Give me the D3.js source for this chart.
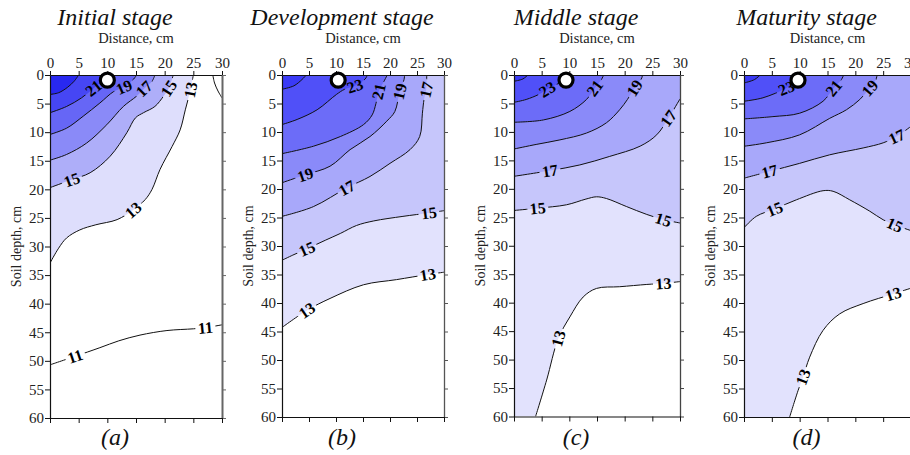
<!DOCTYPE html>
<html><head><meta charset="utf-8">
<script src="https://cdn.jsdelivr.net/npm/d3@7"></script>
<style>
body{margin:0;background:#fff;}
svg{display:block;}
svg text{font-family:"Liberation Serif","Times New Roman",Times,"DejaVu Serif",serif !important;}
</style></head><body>
<svg id="chart" width="910" height="455"></svg>
<script>
// ---------- data ----------
const stageTitles = ["Initial stage", "Development stage", "Middle stage", "Maturity stage"];
const panelLetters = ["(a)", "(b)", "(c)", "(d)"];
const xTicks = [0, 5, 10, 15, 20, 25, 30];
const yTicks = [0, 5, 10, 15, 20, 25, 30, 35, 40, 45, 50, 55, 60];
const xAxisTitle = "Distance, cm";
const yAxisTitle = "Soil depth, cm";
const levels = [11, 13, 15, 17, 19, 21, 23, 25];

// emitter (white circle) position: [distance, depth]
const sourcePoints = [[10, 0.9], [10.4, 0.9], [9.4, 0.9], [9.7, 0.9]];

// contour lines: [level, [[distance cm, depth cm], ...]]
const initialContours = [
  [11, [[0,50.7],[4.4,49.2],[8.7,47.7],[12,46.5],[15.7,45.5],[20.4,44.7],[25,44.4],[27.1,44.2],[30,43.7]]],
  [13, [[25,0],[24.5,2.6],[23.6,6.1],[22.7,9.6],[21.3,12.5],[19.2,16.5],[17.8,20.0],[16.6,21.8],[14.5,23.6],[11.7,25.3],[8,26.2],[5.2,27.1],[2.9,28.5],[1.5,30.3],[0,32.9]]],
  [15, [[0,19.7],[3.8,18.3],[7.0,17.1],[10.5,14.2],[13.4,10.1],[14.9,7.5],[16.3,6.6],[18.3,5.5],[19.8,3.7],[20.7,2.3],[21.5,0]]],
  [17, [[0,14.9],[2.9,13.9],[6.4,11.9],[9.9,8.7],[12.8,5.5],[15.1,3.7],[16.4,2.4],[17.8,1.1],[18.3,0]]],
  [19, [[0,10.4],[2.9,9.3],[5.8,7.2],[8.7,4.9],[11.1,2.9],[12.9,2.1],[14.6,0.7],[15.1,0]]],
  [21, [[0,6.6],[2.9,5.5],[5.5,4.0],[7.6,2.3],[9.2,1.0],[10.5,0]]],
  [23, [[0,3.4],[1.5,3.1],[3,2.2],[4.2,1.1],[5,0]]]
];
const initialExtraLines = [[[28.4,0],[28.7,1.4],[29.3,2.8],[30,4.0]]];
const initialLabels = [[21,7.6,2.3],[19,12.9,2.1],[17,16.4,2.4],[15,20.7,2.3],[13,24.5,2.6],[15,3.8,18.3],[13,14.5,23.6],[11,4.4,49.2],[11,27.1,44.2]];

const developmentContours = [
  [13, [[0,44.3],[4.6,41.3],[8.9,39.2],[15.1,36.8],[21.2,35.9],[27.0,35.0],[30,34.6]]],
  [15, [[0,32.5],[2,31.6],[4.6,30.5],[8,29.0],[10.8,27.8],[13.8,26.4],[17,25.6],[22.4,24.8],[27.2,24.2],[30,23.8]]],
  [17, [[0,24.8],[5.8,23.1],[12.0,19.8],[16.3,17.8],[20.0,15.5],[23.7,13.1],[25.5,10.8],[26.0,6.7],[26.3,4.3],[26.7,2.6],[26.8,0]]],
  [19, [[0,18.9],[4.3,17.5],[8.9,16.0],[12.6,13.1],[16.3,10.8],[19.4,8.1],[20.9,6.4],[21.8,2.9],[22.6,0.8],[22.7,0]]],
  [21, [[0,13.8],[5.8,12.5],[10.8,10.8],[15.1,8.7],[16.7,7.0],[17.4,5.0],[17.9,2.9],[19.0,0.9],[19.5,0]]],
  [23, [[0,8.7],[2.8,7.8],[6.5,6.1],[10.1,3.4],[11.6,2.5],[13.5,1.9],[15.4,0.7],[15.8,0]]],
  [25, [[0,2.5],[2.2,1.9],[3.7,0.8],[4.5,0]]]
];
const developmentLabels = [[23,13.5,1.9],[21,17.9,2.9],[19,21.8,2.9],[17,26.7,2.6],[19,4.3,17.5],[17,12.0,19.8],[15,27.2,24.2],[15,4.6,30.5],[13,4.6,41.3],[13,27.0,35.0]];

const middleContours = [
  [13, [[3.9,60],[5.9,53.6],[8.0,46.3],[10.1,42.5],[12.5,39.0],[14.9,37.5],[19.1,37.2],[24.0,36.8],[27.0,36.6],[30,36.3]]],
  [15, [[0,23.8],[4.3,23.4],[9.5,22.8],[13,21.8],[14.9,21.4],[16.7,21.7],[20.3,23.1],[24.0,24.5],[27.0,25.4],[30,26.0]]],
  [17, [[0,17.8],[6.5,16.8],[11.9,15.8],[17.3,14.3],[22.8,12.5],[25.8,10.5],[27.9,7.6],[30,4.2]]],
  [19, [[0,13.0],[4.0,12.2],[8.3,11.4],[13.1,10.2],[16.7,8.4],[19.1,6.1],[20.5,4.3],[21.8,2.3],[23.1,0.5],[23.2,0]]],
  [21, [[0,8.3],[5.3,7.9],[10.1,6.4],[13.1,4.3],[14.6,2.3],[15.8,0.8],[16.2,0]]],
  [23, [[0,4.8],[2.2,4.3],[4.5,3.4],[6.0,2.5],[8,1.5],[9.5,0.6],[10.2,0]]],
  [25, [[0,1.1],[1.6,0.7],[2.5,0]]]
];
const middleLabels = [[23,6.0,2.5],[21,14.6,2.3],[19,21.8,2.3],[17,27.9,7.6],[17,6.5,16.8],[15,4.3,23.4],[15,27.0,25.4],[13,8.0,46.3],[13,27.0,36.6]];

const maturityContours = [
  [13, [[8.2,60],[9.7,55.4],[10.6,53.0],[11.8,49.5],[14.2,44.8],[17.2,41.9],[21.4,40.1],[26.8,38.4],[30,37.4]]],
  [15, [[0,26.8],[2.2,24.8],[5.5,23.5],[9.4,21.9],[14.2,20.3],[16.0,20.4],[19.0,21.9],[22.6,23.9],[25.0,25.4],[27.1,26.3],[30,27.3]]],
  [17, [[0,18.1],[4.6,16.9],[10.0,15.5],[15.4,14.0],[21.4,12.8],[25.0,11.9],[27.4,10.8],[30,9.0]]],
  [19, [[0,12.5],[4.0,11.9],[10.0,10.5],[15.4,7.6],[18.4,6.1],[20.8,4.3],[22.6,2.3],[23.7,0.8],[23.9,0]]],
  [21, [[0,7.7],[5.2,7.3],[10.0,6.7],[14.2,4.6],[16.1,2.3],[17.5,0.8],[17.9,0]]],
  [23, [[0,4.6],[3.4,4.0],[7.6,2.3],[9.2,1.2],[10.3,0]]],
  [25, [[0,1.4],[1.9,0.8],[2.9,0]]]
];
const maturityLabels = [[23,7.6,2.3],[21,16.1,2.3],[19,22.6,2.3],[17,27.4,10.8],[17,4.6,16.9],[15,5.5,23.5],[15,27.1,26.3],[13,10.6,53.0],[13,26.8,38.4]];

// ---------- styles / layout ----------
const FONT = '"Liberation Serif","Times New Roman",Times,"DejaVu Serif",serif';
// fill colour of the region above each level (aligned with `levels`)
const bandColorsInitial = ["#ffffff","#dedefc","#aeaef9","#8a8af8","#6666f6","#4646f4","#2828f0","#2020ee"];
const bandColorsLater   = ["#ffffff","#e2e2fd","#c6c6fb","#a8a8fa","#8a8af9","#6c6cf8","#5050f8","#3a3af6"];

const panels = [
  {contours: initialContours, labels: initialLabels, extra: initialExtraLines, colors: bandColorsInitial, x0: 50, x1: 222, yb: 418, rightStroke: "#666", rightW: 2},
  {contours: developmentContours, labels: developmentLabels, extra: [], colors: bandColorsLater, x0: 282, x1: 444, yb: 417, rightStroke: "#555", rightW: 1.3},
  {contours: middleContours, labels: middleLabels, extra: [], colors: bandColorsLater, x0: 514, x1: 680, yb: 416.5, rightStroke: "#444", rightW: 1.3},
  {contours: maturityContours, labels: maturityLabels, extra: [], colors: bandColorsLater, x0: 744, x1: 911, yb: 417, rightStroke: "#444", rightW: 1.3}
];
const yTop = 75;
const W = 30, H = 60, P = 2 * (W + H);

const svg = d3.select("#chart").style("font-family", FONT);
const defs = svg.append("defs");

function perim(p) {
  const [px, pd] = p, e = 0.05;
  if (px <= e) return H - pd;
  if (pd <= e) return H + px;
  if (px >= W - e) return H + W + pd;
  return 2 * H + W + (W - px);
}
const cornerList = [[0, [0, H]], [H, [0, 0]], [H + W, [W, 0]], [2 * H + W, [W, H]]];
const mod = v => ((v % P) + P) % P;
function closingCorners(pts) {
  const tS = perim(pts[0]), tE = perim(pts[pts.length - 1]);
  const fwdLen = mod(tS - tE);
  if (mod(H - tE) < fwdLen) {
    return cornerList.map(c => [mod(c[0] - tE), c[1]]).filter(c => c[0] > 0 && c[0] < fwdLen)
      .sort((a, b) => a[0] - b[0]).map(c => c[1]);
  }
  const bwdLen = mod(tE - tS);
  return cornerList.map(c => [mod(tE - c[0]), c[1]]).filter(c => c[0] > 0 && c[0] < bwdLen)
    .sort((a, b) => a[0] - b[0]).map(c => c[1]);
}

panels.forEach((p, i) => {
  const x = d3.scaleLinear().domain([0, W]).range([p.x0, p.x1]);
  const y = d3.scaleLinear().domain([0, H]).range([yTop, p.yb]);
  const cx = (p.x0 + p.x1) / 2;
  const g = svg.append("g");

  defs.append("clipPath").attr("id", "clip" + i).append("rect")
    .attr("x", p.x0).attr("y", yTop).attr("width", p.x1 - p.x0).attr("height", p.yb - yTop);
  const plot = g.append("g").attr("clip-path", `url(#clip${i})`);
  plot.append("rect").attr("x", p.x0).attr("y", yTop).attr("width", p.x1 - p.x0).attr("height", p.yb - yTop).attr("fill", "#fff");

  const curve = d3.line().x(d => x(d[0])).y(d => y(d[1])).curve(d3.curveCatmullRom.alpha(0.5));
  const sorted = p.contours.slice().sort((a, b) => a[0] - b[0]);
  sorted.forEach(c => {
    const pts = c[1];
    const corners = closingCorners(pts);
    const dstr = curve(pts) + corners.map(q => `L${x(q[0])},${y(q[1])}`).join("") + "Z";
    plot.append("path").attr("d", dstr).attr("fill", p.colors[levels.indexOf(c[0])]).attr("stroke", "none");
  });

  // labels
  const labelG = plot.append("g");
  const maskRects = [];
  p.labels.forEach(l => {
    const [lev, lx, ld] = l;
    const px = x(lx), py = y(ld);
    let best = null;
    p.contours.filter(c => c[0] === lev).forEach(c => {
      const s = c[1].map(q => [x(q[0]), y(q[1])]);
      for (let k = 0; k < s.length - 1; k++) {
        const [ax, ay] = s[k], [bx, by] = s[k + 1];
        const vx = bx - ax, vy = by - ay;
        let t = ((px - ax) * vx + (py - ay) * vy) / (vx * vx + vy * vy);
        t = Math.max(0, Math.min(1, t));
        const qx = ax + t * vx, qy = ay + t * vy;
        const dist = Math.hypot(px - qx, py - qy);
        if (!best || dist < best.dist) best = {dist, qx, qy, ang: Math.atan2(vy, vx) * 180 / Math.PI};
      }
    });
    let ang = best.ang;
    if (ang > 90) ang -= 180;
    if (ang < -90) ang += 180;
    const t = labelG.append("text")
      .attr("transform", `translate(${best.qx},${best.qy}) rotate(${ang})`)
      .attr("text-anchor", "middle").attr("dy", "0.35em")
      .style("font-family", FONT).style("font-size", "16px").style("font-weight", "bold").attr("fill", "#000")
      .text(lev);
    const w = t.node().getComputedTextLength();
    maskRects.push({x: best.qx, y: best.qy, ang, w: w + 5});
  });

  const mask = defs.append("mask").attr("id", "mask" + i).attr("maskUnits", "userSpaceOnUse")
    .attr("x", 0).attr("y", 0).attr("width", 910).attr("height", 455);
  mask.append("rect").attr("x", 0).attr("y", 0).attr("width", 910).attr("height", 455).attr("fill", "#fff");
  maskRects.forEach(r => {
    mask.append("rect").attr("x", -r.w / 2).attr("y", -6).attr("width", r.w).attr("height", 12)
      .attr("transform", `translate(${r.x},${r.y}) rotate(${r.ang})`).attr("fill", "#000");
  });

  const lineG = plot.insert("g", () => labelG.node()).attr("mask", `url(#mask${i})`);
  p.contours.forEach(c => {
    lineG.append("path").attr("d", curve(c[1])).attr("fill", "none").attr("stroke", "#111").attr("stroke-width", 1);
  });
  p.extra.forEach(e => {
    lineG.append("path").attr("d", curve(e)).attr("fill", "none").attr("stroke", "#111").attr("stroke-width", 1);
  });

  // axes
  const styleAxis = (sel, color, width) => {
    sel.attr("font-family", null);
    sel.select(".domain").attr("stroke", color).attr("stroke-width", width);
    sel.selectAll(".tick line").attr("stroke", color).attr("stroke-width", 1);
    sel.selectAll(".tick text").style("font-family", FONT).style("font-size", "15px").attr("fill", "#222");
  };
  const top = g.append("g").attr("transform", `translate(0,${yTop})`)
    .call(d3.axisTop(x).tickValues(xTicks).tickSize(4).tickSizeOuter(0).tickPadding(3));
  styleAxis(top, "#111", 1.2);
  const left = g.append("g").attr("transform", `translate(${p.x0},0)`)
    .call(d3.axisLeft(y).tickValues(yTicks).tickSize(5).tickSizeOuter(0).tickPadding(1));
  styleAxis(left, "#111", 1.2);
  const right = g.append("g").attr("transform", `translate(${p.x1},0)`)
    .call(d3.axisRight(y).tickValues(yTicks).tickSize(4).tickSizeOuter(0).tickFormat(""));
  styleAxis(right, p.rightStroke, p.rightW);
  const bottom = g.append("g").attr("transform", `translate(0,${p.yb})`)
    .call(d3.axisBottom(x).tickValues(xTicks).tickSize(5).tickSizeOuter(0).tickFormat(""));
  styleAxis(bottom, "#111", 1.2);

  // texts
  g.append("text").attr("x", cx - 21).attr("y", 25).attr("text-anchor", "middle")
    .style("font-family", FONT).style("font-style", "italic").style("font-size", "24px").attr("fill", "#111").text(stageTitles[i]);
  g.append("text").attr("x", cx).attr("y", 43).attr("text-anchor", "middle")
    .style("font-family", FONT).style("font-size", "14.5px").attr("fill", "#222").text(xAxisTitle);
  g.append("text").attr("transform", `translate(${p.x0 - 34},${(yTop + p.yb) / 2}) rotate(-90)`)
    .attr("text-anchor", "middle").attr("dy", "0.35em")
    .style("font-family", FONT).style("font-size", "14px").attr("fill", "#222").text(yAxisTitle);
  g.append("text").attr("x", cx - 21).attr("y", 445).attr("text-anchor", "middle")
    .style("font-family", FONT).style("font-style", "italic").style("font-size", "24px").attr("fill", "#111").text(panelLetters[i]);

  // emitter
  const sp = sourcePoints[i];
  g.append("circle").attr("cx", x(sp[0])).attr("cy", y(sp[1])).attr("r", 7)
    .attr("fill", "#fff").attr("stroke", "#000").attr("stroke-width", 3.2);
});
</script>
</body></html>
